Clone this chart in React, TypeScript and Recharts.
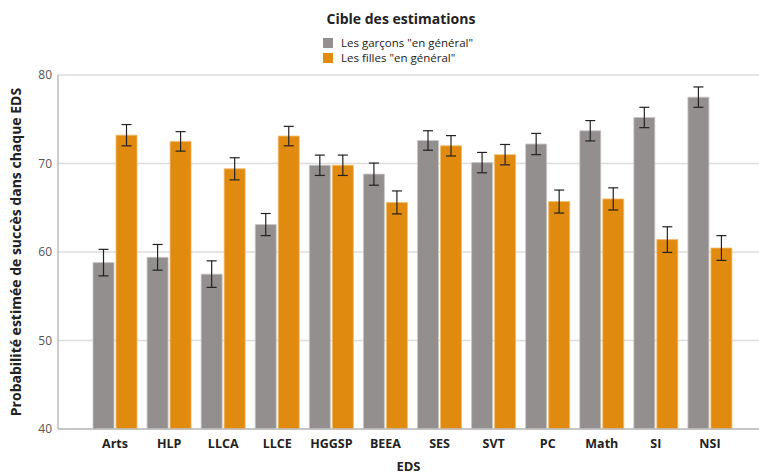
import { BarChart, Bar, XAxis, YAxis, CartesianGrid, ErrorBar, Legend, Label } from 'recharts';

const categories = ['Arts', 'HLP', 'LLCA', 'LLCE', 'HGGSP', 'BEEA', 'SES', 'SVT', 'PC', 'Math', 'SI', 'NSI'];
const garcons = [58.8, 59.4, 57.5, 63.1, 69.8, 68.8, 72.6, 70.1, 72.2, 73.7, 75.2, 77.5];
const garconsErr = [1.5, 1.45, 1.5, 1.25, 1.15, 1.25, 1.1, 1.15, 1.2, 1.15, 1.15, 1.15];
const filles = [73.2, 72.5, 69.4, 73.1, 69.8, 65.6, 72.0, 71.0, 65.7, 66.0, 61.4, 60.45];
const fillesErr = [1.2, 1.1, 1.25, 1.1, 1.15, 1.3, 1.15, 1.15, 1.3, 1.25, 1.45, 1.4];
const yTicks = [40, 50, 60, 70, 80];

const GRAY = '#928f8e';
const ORANGE = '#e08a10';
const FONT = '"Open Sans", "DejaVu Sans", sans-serif';

const data = categories.map((eds, i) => ({
  eds,
  garcons: garcons[i],
  garconsErr: garconsErr[i],
  filles: filles[i],
  fillesErr: fillesErr[i],
}));

const LegendBox = () => (
  <div style={{ fontFamily: FONT, color: '#222', width: 759 }}>
    <div style={{ position: 'absolute', left: 0, top: 9, width: 802, textAlign: 'center', fontWeight: 700, fontSize: 14 }}>
      Cible des estimations
    </div>
    {[
      { color: GRAY, label: 'Les garçons "en général"' },
      { color: ORANGE, label: 'Les filles "en général"' },
    ].map((it, i) => (
      <div key={i} style={{ position: 'absolute', left: 323, top: 35 + i * 15, display: 'flex', alignItems: 'center', fontSize: 11.5, whiteSpace: 'nowrap' }}>
        <span style={{ display: 'inline-block', width: 10, height: 10, background: it.color, marginRight: 8 }} />
        {it.label}
      </div>
    ))}
  </div>
);

export default function App() {
  return (
    <div style={{ position: 'absolute', left: 0, top: 0, width: 759, height: 476, background: '#fff' }}>
      <BarChart
        width={759}
        height={476}
        data={data}
        margin={{ top: 75, right: 0, left: 0, bottom: 0 }}
        barCategoryGap={5}
        barGap={2}
      >
        <CartesianGrid vertical={false} stroke="#dcdcdc" strokeWidth={1.5} />
        <XAxis
          dataKey="eds"
          height={47}
          padding={{ left: 30, right: 22 }}
          tickLine={false}
          axisLine={{ stroke: '#bdbdbd', strokeWidth: 1.5 }}
          tick={{ fill: '#222', fontSize: 12.5, fontWeight: 700, fontFamily: FONT }}
          tickMargin={4}
        >
          <Label value="EDS" position="insideBottom" offset={5} style={{ fill: '#222', fontSize: 13, fontWeight: 700, fontFamily: FONT }} />
        </XAxis>
        <YAxis
          width={58}
          domain={[40, 80]}
          ticks={yTicks}
          tickLine={false}
          axisLine={{ stroke: '#bdbdbd', strokeWidth: 1.5 }}
          tick={{ fill: '#555', fontSize: 12, fontFamily: FONT }}
          tickMargin={0}
        >
          <Label
            value="Probabilité estimée de succès dans chaque EDS"
            angle={-90}
            position="insideLeft"
            offset={16}
            style={{ textAnchor: 'middle', fill: '#222', fontSize: 14, fontWeight: 700, fontFamily: FONT }}
          />
        </YAxis>
        <Legend verticalAlign="top" wrapperStyle={{ position: 'absolute', top: 0, left: 0 }} content={() => <LegendBox />} />
        <Bar dataKey="garcons" fill={GRAY} stroke="#c9c7c6" strokeWidth={0.8} isAnimationActive={false}>
          <ErrorBar dataKey="garconsErr" width={5} stroke="#222" strokeWidth={1.2} />
        </Bar>
        <Bar dataKey="filles" fill={ORANGE} stroke="#f2bb6a" strokeWidth={0.8} isAnimationActive={false}>
          <ErrorBar dataKey="fillesErr" width={5} stroke="#222" strokeWidth={1.2} />
        </Bar>
      </BarChart>
    </div>
  );
}
